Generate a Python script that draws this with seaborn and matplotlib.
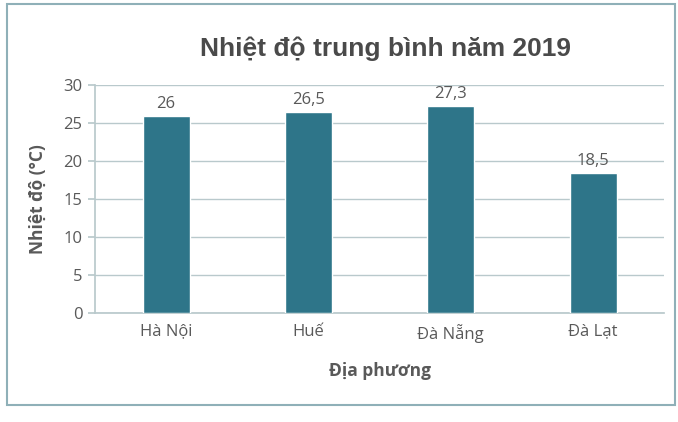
import matplotlib
matplotlib.use("Agg")
import matplotlib.pyplot as plt
import seaborn as sns
import pandas as pd
from matplotlib.patches import Rectangle

# Data
places = ["Hà Nội", "Huế", "Đà Nẵng", "Đà Lạt"]
temps = [26, 26.5, 27.3, 18.5]
labels = ["26", "26,5", "27,3", "18,5"]
yticks = [0, 5, 10, 15, 20, 25, 30]

df = pd.DataFrame({"place": places, "temp": temps})

sns.set_theme(style="white")
plt.rcParams["font.family"] = ["Open Sans", "DejaVu Sans"]

text_col = "#595959"
grid_col = "#b9c9cc"
bar_col = "#2e7589"

fig = plt.figure(figsize=(6.78, 4.22), dpi=100)
ax = fig.add_axes([0.14, 0.258, 0.84, 0.54])

sns.barplot(data=df, x="place", y="temp", color=bar_col, width=0.33,
            saturation=1, ax=ax, zorder=3)

# value labels
for i, (v, lab) in enumerate(zip(temps, labels)):
    ax.text(i, v + 0.5, lab, ha="center", va="bottom", fontsize=12, color=text_col)

ax.set_ylim(0, 30)
ax.set_yticks(yticks)
ax.set_yticklabels([str(t) for t in yticks], fontsize=12, color=text_col)
ax.tick_params(axis="x", labelsize=12, labelcolor=text_col, length=4, color=grid_col)
ax.tick_params(axis="y", length=5, color=grid_col, pad=4, left=True)
ax.grid(axis="y", color=grid_col, linewidth=1, zorder=0)

for s in ["top", "right"]:
    ax.spines[s].set_visible(False)
ax.spines["left"].set_color(grid_col)
ax.spines["bottom"].set_color(grid_col)

ax.set_xlabel("Địa phương", fontsize=12.5, fontweight="bold", color=text_col, labelpad=14)
ax.set_ylabel("Nhiệt độ (°C)", fontsize=12.5, fontweight="bold", color=text_col, labelpad=12)

fig.text(0.568, 0.885, "Nhiệt độ trung bình năm 2019", ha="center", va="center",
         fontsize=19, fontweight="bold", color="#4a4a4a",
         family=["Liberation Sans", "DejaVu Sans"])

# chart border
fig.patches.append(Rectangle((0.01, 0.04), 0.985, 0.95, transform=fig.transFigure,
                             fill=False, edgecolor="#8fb0b8", linewidth=1.5))

fig.savefig("out.png", dpi=100, facecolor="white")
